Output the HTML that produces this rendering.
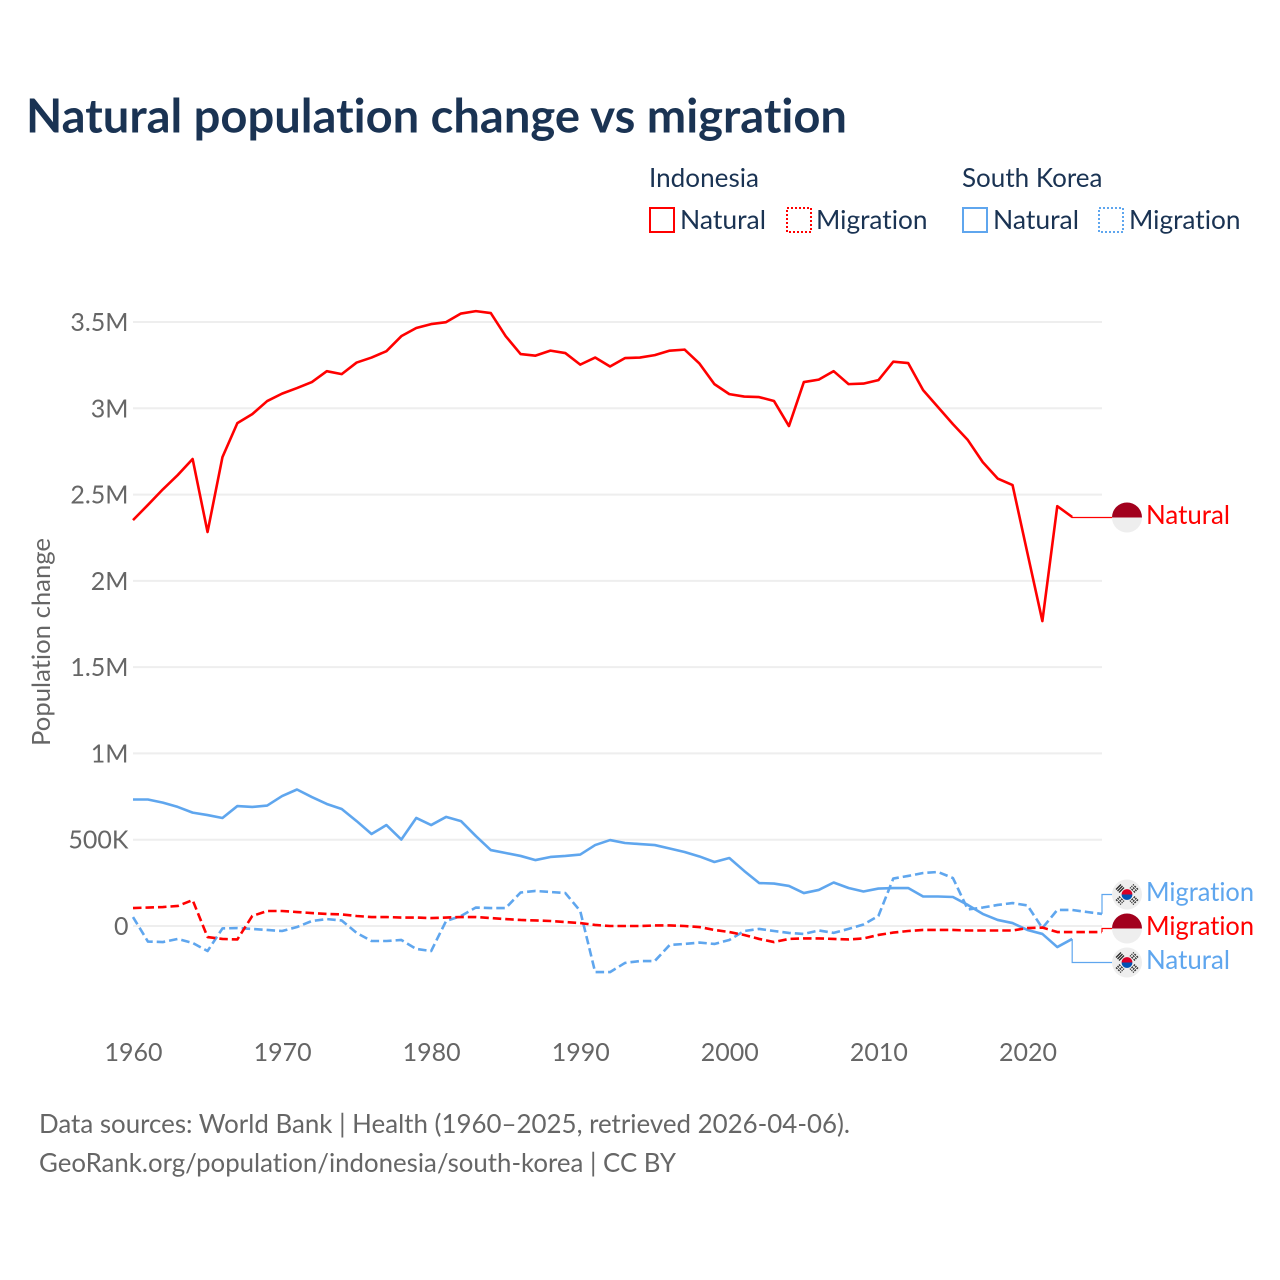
<!DOCTYPE html>
<html lang="en">
<head>
<meta charset="utf-8">
<title>Natural population change vs migration</title>
<style>
html,body{margin:0;padding:0;background:#fff;}
svg{display:block;}
text{font-family:"Lato","Carlito","Liberation Sans",sans-serif;font-variant-ligatures:none;}
</style>
</head>
<body>
<svg id="chart" xmlns="http://www.w3.org/2000/svg" width="1280" height="1280" viewBox="0 0 1280 1280">
  <rect width="1280" height="1280" fill="#ffffff"/>
  <text x="26" y="132.5" font-size="47" font-weight="700" fill="#1a3353" textLength="821" lengthAdjust="spacingAndGlyphs">Natural population change vs migration</text>

  <g font-size="26" fill="#1a3353">
    <text x="649" y="187" textLength="110" lengthAdjust="spacingAndGlyphs">Indonesia</text>
    <text x="962" y="187" textLength="140.5" lengthAdjust="spacingAndGlyphs">South Korea</text>
    <rect x="650" y="208" width="24" height="24" fill="none" stroke="#ff0000" stroke-width="2"/>
    <text x="680" y="229" textLength="86" lengthAdjust="spacingAndGlyphs">Natural</text>
    <rect x="787" y="208" width="24" height="24" fill="none" stroke="#ff0000" stroke-width="2" stroke-dasharray="2 2"/>
    <text x="816" y="229" textLength="111.5" lengthAdjust="spacingAndGlyphs">Migration</text>
    <rect x="963" y="208" width="24" height="24" fill="none" stroke="#5fa6ee" stroke-width="2"/>
    <text x="993" y="229" textLength="86" lengthAdjust="spacingAndGlyphs">Natural</text>
    <rect x="1099" y="208" width="24" height="24" fill="none" stroke="#5fa6ee" stroke-width="2" stroke-dasharray="2 2"/>
    <text x="1129" y="229" textLength="111.5" lengthAdjust="spacingAndGlyphs">Migration</text>
  </g>

  <text transform="translate(50,642) rotate(-90)" text-anchor="middle" font-size="25" fill="#666666" textLength="208" lengthAdjust="spacingAndGlyphs">Population change</text>

  <g id="grid"></g>
  <g id="yticks" font-size="25" fill="#666666" text-anchor="end"></g>
  <g id="xticks" font-size="25" fill="#666666" text-anchor="middle"></g>
  <g id="series" fill="none"></g>
  <g id="connectors" fill="none" stroke-width="1.2"></g>

  <defs>
    <g id="flag-indonesia">
      <circle cx="0" cy="0" r="15" fill="#eeeeee"/>
      <path d="M-15 0A15 15 0 0 1 15 0Z" fill="#a2001d"/>
    </g>
    <g id="flag-korea">
      <circle cx="0" cy="0" r="15" fill="#eeeeee"/>
      <path d="M-5.4 0A5.4 5.4 0 0 1 5.4 0Z" fill="#d80027"/>
      <path d="M-5.4 0A5.4 5.4 0 0 0 5.4 0Z" fill="#0052b4"/>
      <g stroke="#2a2a2a" stroke-width="1.3">
        <path d="M-11 -5L-6 -10M-9.5 -3.5L-4.5 -8.5M-8 -2L-3 -7"/>
        <path d="M11 -5L6 -10M9.5 -3.5L4.5 -8.5M8 -2L3 -7" stroke-dasharray="2 1"/>
        <path d="M-11 5L-6 10M-9.5 3.5L-4.5 8.5M-8 2L-3 7" stroke-dasharray="2 1"/>
        <path d="M11 5L6 10M9.5 3.5L4.5 8.5M8 2L3 7" stroke-dasharray="2 1"/>
      </g>
    </g>
  </defs>

  <g font-size="26">
    <use href="#flag-indonesia" x="1127" y="517.5"/>
    <text x="1146" y="524" fill="#ff0000" textLength="84" lengthAdjust="spacingAndGlyphs">Natural</text>
    <use href="#flag-korea" x="1127" y="894.5"/>
    <text x="1146" y="901" fill="#5fa6ee" textLength="108" lengthAdjust="spacingAndGlyphs">Migration</text>
    <use href="#flag-indonesia" x="1127" y="928.5"/>
    <text x="1146" y="935" fill="#ff0000" textLength="108" lengthAdjust="spacingAndGlyphs">Migration</text>
    <use href="#flag-korea" x="1127" y="962.5"/>
    <text x="1146" y="969" fill="#5fa6ee" textLength="84" lengthAdjust="spacingAndGlyphs">Natural</text>
  </g>

  <g font-size="26" fill="#666666">
    <text x="39" y="1133" textLength="811" lengthAdjust="spacingAndGlyphs">Data sources: World Bank | Health (1960–2025, retrieved 2026-04-06).</text>
    <text x="39" y="1172" textLength="637" lengthAdjust="spacingAndGlyphs">GeoRank.org/population/indonesia/south-korea | CC BY</text>
  </g>
</svg>
<script>
// Values in thousands of people, one per year starting at startYear.
const startYear = 1960;
const yTickValues = [0, 500, 1000, 1500, 2000, 2500, 3000, 3500];
const yTickLabels = ["0", "500K", "1M", "1.5M", "2M", "2.5M", "3M", "3.5M"];
const xTickYears = [1960, 1970, 1980, 1990, 2000, 2010, 2020];
const indonesiaNatural = [2352,2440,2530,2613,2706,2283,2717,2914,2966,3042,3085,3117,3152,3215,3198,3265,3294,3331,3418,3465,3488,3499,3549,3563,3552,3418,3314,3305,3334,3320,3253,3294,3242,3291,3294,3308,3334,3340,3259,3140,3082,3068,3065,3042,2897,3152,3166,3215,3140,3143,3163,3270,3262,3105,3007,2908,2816,2688,2593,2555,2160,1767,2433,2370];
const southKoreaNatural = [733,733,715,690,657,643,626,695,690,698,753,791,747,707,678,608,533,585,501,626,585,632,608,521,440,423,406,382,400,406,414,469,498,481,475,469,449,429,403,371,394,319,249,246,232,191,209,252,220,200,217,220,220,171,171,168,122,70,35,17,-23,-46,-122,-75];
const indonesiaMigration = [104,107,110,116,150,-64,-75,-78,58,87,87,81,75,70,67,58,52,52,49,49,46,49,52,52,46,40,35,32,29,23,17,6,0,0,0,3,3,0,-6,-23,-35,-52,-75,-93,-75,-72,-72,-75,-78,-72,-52,-38,-29,-23,-23,-23,-26,-26,-26,-26,-12,-9,-35,-35,-35,-35];
const southKoreaMigration = [52,-90,-93,-75,-98,-145,-14,-12,-17,-23,-29,-6,29,40,32,-40,-87,-87,-81,-133,-145,29,58,107,104,104,194,203,197,191,87,-267,-267,-214,-203,-203,-110,-104,-96,-104,-81,-29,-17,-29,-40,-46,-26,-40,-17,9,58,275,290,307,313,278,96,107,122,133,119,-12,93,93,81,70];

const NS = "http://www.w3.org/2000/svg";
const RED = "#ff0000";
const BLUE = "#5fa6ee";
function xScale(year) { return 133 + (year - 1960) * (969 / 65); }
function yScale(v) { return 926 - v * (604 / 3500); }

const grid = document.getElementById("grid");
const yticks = document.getElementById("yticks");
const xticks = document.getElementById("xticks");
const seriesGroup = document.getElementById("series");
const connectors = document.getElementById("connectors");

yTickValues.forEach(function (v, i) {
  const line = document.createElementNS(NS, "line");
  
  
  line.setAttribute("x1", xScale(1960));
  line.setAttribute("x2", xScale(2025));
  line.setAttribute("y1", yScale(v));
  line.setAttribute("y2", yScale(v));
  line.setAttribute("stroke", "#eeeeee");
  line.setAttribute("stroke-width", "2");
  grid.appendChild(line);
  const t = document.createElementNS(NS, "text");
  
  
  t.setAttribute("x", 128.5);
  t.setAttribute("y", yScale(v) + 9);
  t.textContent = yTickLabels[i];
  yticks.appendChild(t);
});

xTickYears.forEach(function (year) {
  const t = document.createElementNS(NS, "text");
  
  
  t.setAttribute("x", xScale(year) + 0.5);
  t.setAttribute("y", 1061);
  t.textContent = year;
  xticks.appendChild(t);
});

function drawSeries(values, color, dashed, name) {
  const p = document.createElementNS(NS, "polyline");
  
  
  p.setAttribute("points", values.map(function (v, i) {
    return xScale(startYear + i).toFixed(2) + "," + yScale(v).toFixed(2);
  }).join(" "));
  p.setAttribute("stroke", color);
  p.setAttribute("stroke-width", "2.6");
  p.setAttribute("stroke-linejoin", "round");
  if (dashed) p.setAttribute("stroke-dasharray", "8.5 4");
  seriesGroup.appendChild(p);
}
drawSeries(southKoreaMigration, BLUE, true, "series-south-korea-migration");
drawSeries(southKoreaNatural, BLUE, false, "series-south-korea-natural");
drawSeries(indonesiaMigration, RED, true, "series-indonesia-migration");
drawSeries(indonesiaNatural, RED, false, "series-indonesia-natural");

function drawConnector(values, color, labelY, name) {
  const last = values.length - 1;
  const x = xScale(startYear + last);
  const y = yScale(values[last]);
  const c = document.createElementNS(NS, "path");
  
  
  c.setAttribute("d", "M" + x + " " + y + "V" + labelY + "H1112");
  c.setAttribute("stroke", color);
  connectors.appendChild(c);
}
drawConnector(indonesiaNatural, RED, 517.5, "connector-indonesia-natural");
drawConnector(southKoreaMigration, BLUE, 894.5, "connector-south-korea-migration");
drawConnector(indonesiaMigration, RED, 928.5, "connector-indonesia-migration");
drawConnector(southKoreaNatural, BLUE, 962.5, "connector-south-korea-natural");
</script>
</body>
</html>
